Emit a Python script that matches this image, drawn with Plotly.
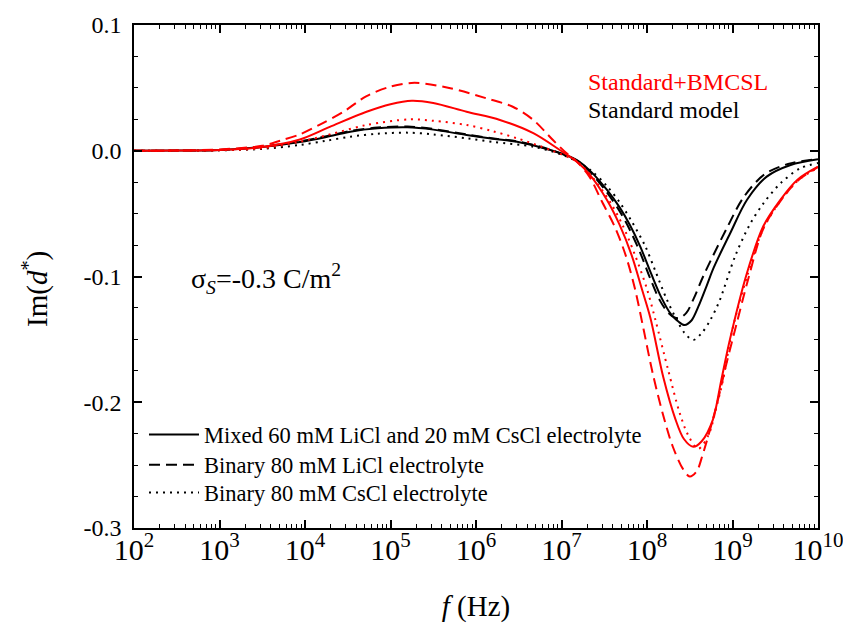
import plotly.graph_objects as go

# ---- data (log10 of frequency in Hz, Im(d*)) ----
logf_black_solid = [2, 2.5, 3, 3.5, 3.94, 4.25, 4.53, 4.85, 5.2, 5.5, 5.89, 6.2, 6.48, 6.87, 7.18, 7.35, 7.53, 7.68, 7.8, 7.92, 8.05, 8.17, 8.28, 8.37, 8.44, 8.52, 8.6, 8.7, 8.78, 8.97, 9.17, 9.4, 9.68, 10]
im_black_solid = [0, 0.0001, 0.0005, 0.003, 0.007, 0.011, 0.0152, 0.0178, 0.0186, 0.0168, 0.0125, 0.0095, 0.0072, 0.0006, -0.0074, -0.017, -0.031, -0.045, -0.059, -0.076, -0.098, -0.117, -0.130, -0.136, -0.1386, -0.135, -0.124, -0.107, -0.093, -0.066, -0.039, -0.0206, -0.0113, -0.0068]

logf_black_dash = [2, 2.5, 3, 3.5, 3.94, 4.25, 4.53, 4.85, 5.2, 5.5, 5.89, 6.2, 6.48, 6.87, 7.18, 7.35, 7.53, 7.68, 7.8, 7.92, 8.04, 8.15, 8.25, 8.32, 8.38, 8.46, 8.55, 8.65, 8.74, 8.93, 9.13, 9.37, 9.65, 10]
im_black_dash = [0, 0.0001, 0.0006, 0.0032, 0.0075, 0.0115, 0.0158, 0.0184, 0.0192, 0.0173, 0.013, 0.0098, 0.0075, 0.0008, -0.0078, -0.018, -0.033, -0.048, -0.063, -0.081, -0.102, -0.119, -0.129, -0.1325, -0.133, -0.129, -0.117, -0.101, -0.088, -0.062, -0.037, -0.019, -0.0105, -0.0065]

logf_black_dot = [2, 2.5, 3, 3.5, 3.94, 4.25, 4.53, 4.85, 5.2, 5.5, 5.89, 6.2, 6.67, 7.0, 7.18, 7.35, 7.53, 7.68, 7.82, 7.98, 8.1, 8.23, 8.35, 8.44, 8.54, 8.64, 8.74, 8.85, 9.03, 9.2, 9.36, 9.56, 9.79, 10]
im_black_dot = [0, 0.0001, 0.0003, 0.0015, 0.0046, 0.008, 0.0112, 0.0135, 0.0144, 0.013, 0.0099, 0.007, 0.0032, -0.003, -0.0085, -0.016, -0.028, -0.041, -0.056, -0.076, -0.096, -0.118, -0.1348, -0.145, -0.1505, -0.145, -0.1347, -0.119, -0.084, -0.059, -0.042, -0.026, -0.014, -0.0098]

logf_red_solid = [2, 2.5, 3, 3.5, 3.94, 4.29, 4.72, 5.0, 5.25, 5.5, 5.89, 6.28, 6.67, 6.98, 7.18, 7.33, 7.53, 7.68, 7.82, 7.94, 8.04, 8.19, 8.33, 8.43, 8.54, 8.64, 8.77, 8.87, 8.97, 9.17, 9.36, 9.56, 9.76, 10]
im_red_solid = [0, 0.0001, 0.0006, 0.003, 0.009, 0.019, 0.031, 0.037, 0.0398, 0.038, 0.031, 0.0245, 0.014, 0.0006, -0.0087, -0.019, -0.039, -0.059, -0.083, -0.110, -0.133, -0.180, -0.213, -0.229, -0.2354, -0.231, -0.214, -0.182, -0.150, -0.097, -0.060, -0.039, -0.023, -0.0127]

logf_red_dash = [2, 2.5, 3, 3.5, 3.71, 3.94, 4.18, 4.45, 4.72, 5.0, 5.28, 5.7, 6.12, 6.43, 6.67, 6.9, 7.06, 7.18, 7.33, 7.47, 7.62, 7.75, 7.86, 7.96, 8.07, 8.2, 8.3, 8.42, 8.5, 8.58, 8.65, 8.81, 8.93, 9.05, 9.18, 9.36, 9.56, 9.76, 10]
im_red_dash = [0, 0.0002, 0.001, 0.004, 0.008, 0.013, 0.021, 0.031, 0.0435, 0.051, 0.054, 0.0497, 0.0417, 0.035, 0.0245, 0.0085, -0.002, -0.0087, -0.021, -0.040, -0.060, -0.083, -0.110, -0.142, -0.178, -0.213, -0.235, -0.253, -0.259, -0.255, -0.242, -0.2035, -0.169, -0.137, -0.103, -0.062, -0.040, -0.024, -0.013]

logf_red_dot = [2, 2.5, 3, 3.5, 3.94, 4.29, 4.72, 5.23, 5.5, 5.89, 6.2, 6.48, 6.87, 7.18, 7.35, 7.58, 7.72, 7.86, 8.0, 8.1, 8.25, 8.38, 8.48, 8.6, 8.72, 8.8, 8.89, 9.0, 9.17, 9.36, 9.56, 9.76, 10]
im_red_dot = [0, 0.0001, 0.0004, 0.002, 0.0072, 0.013, 0.0205, 0.025, 0.0238, 0.0205, 0.0155, 0.0099, 0.0006, -0.0087, -0.020, -0.042, -0.060, -0.083, -0.110, -0.135, -0.175, -0.208, -0.226, -0.237, -0.226, -0.207, -0.182, -0.142, -0.100, -0.062, -0.040, -0.024, -0.0135]

legend_names = ["Mixed 60 mM LiCl and 20 mM CsCl electrolyte",
                "Binary 80 mM LiCl electrolyte",
                "Binary 80 mM CsCl electrolyte"]

y_tickvals = [0.1, 0.0, -0.1, -0.2, -0.3]
y_ticktext = ["0.1", "0.0", "-0.1", "-0.2", "-0.3"]

RED = "#FF0000"
BLACK = "#000000"
DASH = "11px,6px"
DOT = "2px,5px"


def hz(logs):
    return [10 ** v for v in logs]


fig = go.Figure()

series = [
    (logf_black_solid, im_black_solid, BLACK, "solid", legend_names[0], True, "legend"),
    (logf_black_dash, im_black_dash, BLACK, DASH, legend_names[1], True, "legend2"),
    (logf_black_dot, im_black_dot, BLACK, DOT, legend_names[2], True, "legend3"),
    (logf_red_solid, im_red_solid, RED, "solid", "Standard+BMCSL solid", False, "legend"),
    (logf_red_dash, im_red_dash, RED, DASH, "Standard+BMCSL dash", False, "legend"),
    (logf_red_dot, im_red_dot, RED, DOT, "Standard+BMCSL dot", False, "legend"),
]

for lx, ly, col, dash, name, show, leg in series:
    fig.add_trace(go.Scatter(
        x=hz(lx), y=ly, mode="lines", name=name, showlegend=show, legend=leg,
        line=dict(color=col, width=2, dash=dash, shape="spline", smoothing=0.9),
        hoverinfo="skip",
    ))

legend_style = dict(x=0.0146, xanchor="left", yanchor="middle",
                    bgcolor="rgba(0,0,0,0)", font=dict(size=22.5),
                    itemwidth=50, tracegroupgap=0)

fig.update_layout(
    width=843, height=623,
    margin=dict(l=134, r=25, t=25, b=95, autoexpand=False),
    paper_bgcolor="white", plot_bgcolor="white",
    font=dict(family="Liberation Serif", size=24, color="black"),
    showlegend=True,
    legend=dict(y=0.1849, **legend_style),
    legend2=dict(y=0.1252, **legend_style),
    legend3=dict(y=0.0696, **legend_style),
)

fig.update_xaxes(
    type="log", range=[2, 10], dtick=1, exponentformat="power", automargin=False,
    showgrid=False, zeroline=False, showline=True, linecolor="black", linewidth=1.5,
    mirror="ticks", ticks="inside", ticklen=8, tickwidth=1.5, tickcolor="black",
    minor=dict(dtick="D1", ticks="inside", ticklen=4, tickwidth=1, tickcolor="black", showgrid=False),
    tickfont=dict(size=24), ticklabeloverflow="allow", ticklabelstandoff=-5,
    title=dict(text="<i>f</i> (Hz)", font=dict(size=29), standoff=36),
)

fig.update_yaxes(
    range=[-0.3, 0.1], tickvals=y_tickvals, ticktext=y_ticktext, automargin=False,
    showgrid=False, zeroline=False, showline=True, linecolor="black", linewidth=1.5,
    mirror="ticks", ticks="inside", ticklen=8, tickwidth=1.5, tickcolor="black",
    minor=dict(dtick=0.025, tick0=0, ticks="inside", ticklen=4, tickwidth=1, tickcolor="black", showgrid=False),
    tickfont=dict(size=24), ticklabelstandoff=6,
)

# y-axis title, placed a little below the axis middle as in the original
fig.add_annotation(x=-0.145, y=0.475, xref="paper", yref="paper", xanchor="center", yanchor="middle",
                   text="Im(<i>d</i><sup>*</sup>)", textangle=-90, showarrow=False,
                   font=dict(size=29, color=BLACK))

fig.add_annotation(x=0.661, y=0.887, xref="paper", yref="paper", xanchor="left", yanchor="middle",
                   text="Standard+BMCSL", showarrow=False, font=dict(size=24, color=RED))
fig.add_annotation(x=0.661, y=0.832, xref="paper", yref="paper", xanchor="left", yanchor="middle",
                   text="Standard model", showarrow=False, font=dict(size=24, color=BLACK))
fig.add_annotation(x=0.080, y=0.496, xref="paper", yref="paper", xanchor="left", yanchor="middle",
                   text="σ<sub><i>S</i></sub>=-0.3 C/m<sup>2</sup>", showarrow=False,
                   font=dict(size=28, color=BLACK))

fig.write_html("out.html", config={"displayModeBar": False},
               post_script="document.body.style.margin='0px';document.body.style.overflow='hidden';")
